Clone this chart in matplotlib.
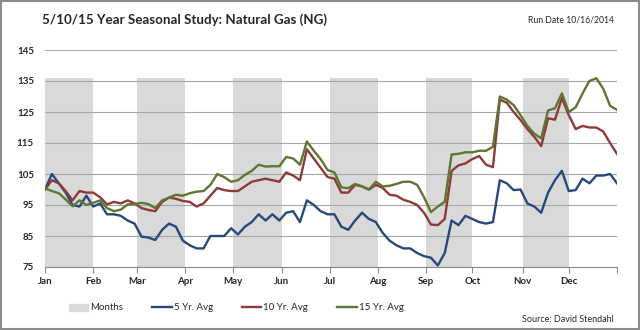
import numpy as np
import matplotlib.pyplot as plt
from matplotlib.patches import Rectangle, Patch
from matplotlib.lines import Line2D

plt.rcParams['font.family'] = ['Lato', 'DejaVu Sans']

# trading-day calendar (one bar per month, shaded every other month)
months = ['Jan', 'Feb', 'Mar', 'Apr', 'May', 'Jun',
          'Jul', 'Aug', 'Sep', 'Oct', 'Nov', 'Dec']
month_days = [21, 19, 21, 21, 21, 21, 21, 21, 20, 22, 20, 21]
shade = [136, 0, 136, 0, 136, 0, 136, 0, 136, 0, 136, 0]

# seasonal index, sampled every 3 trading days
step = 3
avg5 = [100, 105, 102, 99, 95, 94.5, 98, 94.5, 95.5, 92, 92, 91.5, 90, 89,
        84.8, 84.5, 83.7, 87, 89, 88, 83.5, 82, 81, 81, 85, 85, 85, 87.5,
        85.5, 88, 89.5, 92, 90, 92, 90, 92.5, 93, 89.5, 96.5, 95, 93, 92,
        92, 88, 87, 90, 92.5, 90.5, 89.5, 86, 83.5, 82, 81, 81, 79.5, 78.5,
        78, 75.5, 79.5, 90, 88.5, 91.5, 90.5, 89.5, 89, 89.5, 103, 102, 99.8,
        100, 95.5, 94.5, 92.5, 99, 103, 106, 99.5, 99.8, 103.5, 102, 104.5,
        104.5, 105, 102]
avg10 = [100, 103, 102, 99.5, 96.5, 99.5, 99, 99, 97.5, 95.2, 96, 95.5, 96.5,
         95.5, 94, 93.4, 93, 96, 97.4, 97, 96.3, 96, 94.5, 95.5, 98, 100.5,
         99.8, 99.5, 99.5, 101, 102.5, 103, 103.5, 103, 102.5, 105.5, 104.5,
         103, 113, 110, 107, 104, 103.5, 99, 99, 101.5, 101, 100, 101.5, 100.5,
         98.3, 98, 96.7, 96, 95, 92.5, 88.7, 88.5, 90.5, 106, 107.8, 108.4,
         109.8, 110.8, 108, 107.2, 129, 128, 125, 122.4, 119.5, 117, 114, 123,
         122.5, 129.5, 124, 119.5, 120.5, 120, 120, 118.7, 115, 111.5]
avg15 = [100.4, 99.5, 98.8, 96.8, 94.6, 96.5, 95, 95.7, 96.5, 94, 93, 93.5,
         95.2, 95.3, 95.7, 95.3, 94, 96.5, 97.4, 98.3, 98, 98.8, 99.3, 99.5,
         101.5, 105, 104, 102.5, 103, 104.7, 106, 108, 107.4, 107.5, 107.5,
         110.5, 110, 108, 115.5, 112.5, 109.8, 106.3, 105.5, 100.7, 100.4,
         101.8, 101, 100, 102.5, 101, 101.2, 101.8, 102.5, 102.5, 101.5, 97.5,
         92.7, 94.5, 96, 111.3, 111.5, 112, 112, 112.5, 112.5, 113.8, 130, 129,
         127.2, 124, 120.5, 118, 116.5, 125.5, 126.2, 131, 125, 126.5, 131, 135,
         135.9, 132.5, 127, 125.7]

series = [('5 Yr. Avg', avg5, '#27497a'),
          ('10 Yr. Avg', avg10, '#8e3a38'),
          ('15 Yr. Avg', avg15, '#5e7632')]

month_starts = np.concatenate([[0], np.cumsum(month_days)])
total_days = month_starts[-1]
days = np.arange(len(avg5)) * step

fig = plt.figure(figsize=(6.4, 3.3), dpi=100)
ax = fig.add_axes([45 / 640, 1 - 267 / 330, 572 / 640, 217 / 330])

ax.bar(month_starts[:-1], shade, width=month_days, align='edge',
       color='#d9d9d9', linewidth=0, zorder=1)
for name, vals, col in series:
    ax.plot(days, vals, color=col, lw=1.7, zorder=3)

ax.set_xlim(0, total_days)
ax.set_ylim(75, 145)
ax.set_yticks(np.arange(75, 146, 10))
ax.set_xticks(month_starts)
ax.set_xticklabels(months + [''])
ax.yaxis.grid(True, color='#a6a6a6', lw=0.8, zorder=2)
ax.set_axisbelow(False)
for s in ['top', 'right', 'left']:
    ax.spines[s].set_visible(False)
ax.spines['bottom'].set_color('#8c8c8c')
ax.tick_params(axis='y', length=0, pad=8, labelsize=7, labelcolor='#262626')
ax.tick_params(axis='x', length=4, width=0.8, color='#8c8c8c', pad=3,
               labelsize=7, labelcolor='#262626')
for lab in ax.get_xticklabels() + ax.get_yticklabels():
    lab.set_fontweight('bold')

fig.text(42 / 640, 1 - 20 / 330, '5/10/15 Year Seasonal Study: Natural Gas (NG)',
         fontsize=9.6, fontweight='bold', color='#262626', va='center')
fig.text(614 / 640, 1 - 20 / 330, 'Run Date 10/16/2014', fontsize=6.2,
         color='#262626', va='center', ha='right')
fig.text(614 / 640, 1 - 320 / 330, 'Source: David Stendahl', fontsize=6.5,
         color='#262626', va='center', ha='right')

handles = [Patch(color='#d9d9d9', label='Months')]
handles += [Line2D([], [], color=col, lw=1.7, label=name) for name, _, col in series]
fig.legend(handles=handles, loc='center left', ncol=4, frameon=False,
           bbox_to_anchor=(60 / 640, 1 - 308 / 330), fontsize=7,
           handlelength=2.0, handleheight=0.7, handletextpad=0.2,
           columnspacing=3.0, labelcolor='#262626')

fig.add_artist(Rectangle((0.001, 0.002), 0.997, 0.995, transform=fig.transFigure,
                         fill=False, edgecolor='#8c8c8c', lw=1.5))

fig.savefig('out.png', dpi=100)
